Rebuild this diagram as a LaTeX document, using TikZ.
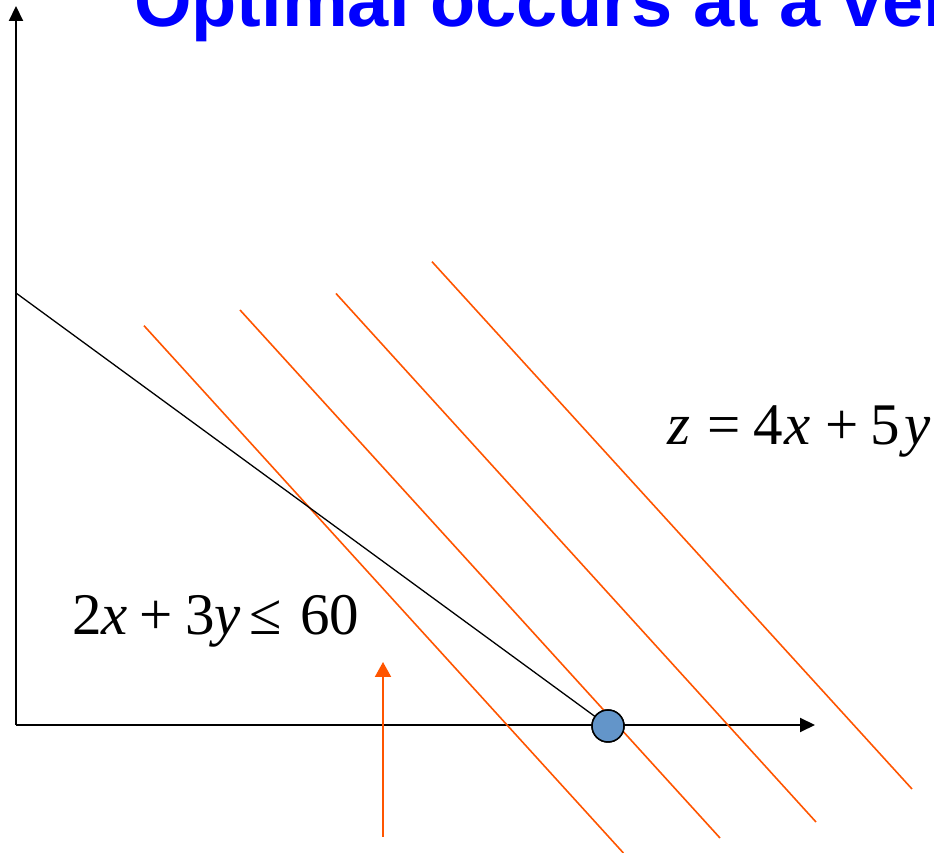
\documentclass[tikz,border=0pt]{standalone}
\usepackage{fontspec}
\setmainfont{Liberation Serif}
\newfontfamily\titlefont{Liberation Sans}
\usetikzlibrary{arrows.meta,positioning}
\definecolor{titleblue}{RGB}{0,0,255}
\definecolor{levelorange}{RGB}{255,85,0}
\definecolor{dotblue}{RGB}{99,149,201}

\begin{document}
\begin{tikzpicture}[x=1pt, y=1pt,
    axis/.style={line width=2pt, -{Triangle[length=15pt, width=14pt]}},
    constraint/.style={line width=1.3pt, black},
    level/.style={line width=1.6pt, levelorange},
    push/.style={line width=2pt, levelorange, -{Triangle[length=15pt, width=16pt]}},
    eq/.style={inner sep=0pt, anchor=base west, font=\fontsize{59}{60}\selectfont},
    vertex/.style={circle, draw=black, line width=1.5pt, fill=dotblue, minimum size=32pt, inner sep=0pt}
]
    \useasboundingbox (0,0) rectangle (934,853);
    \clip (0,0) rectangle (934,853);

    % Title (cut off by the frame)
    \node[inner sep=0pt, anchor=base west, text=titleblue, font=\titlefont\bfseries\fontsize{74}{74}\selectfont] (title) at (134,826) {Optimal occurs at a vertex};

    % Axes
    \coordinate (O) at (16,128);
    \coordinate (ytop) at (16,847);
    \coordinate (xend) at (815,128);
    \draw[axis] (O) -- (ytop);
    \draw[axis] (O) -- (xend);

    % Objective lines
    \coordinate (a1) at (144,527.3);  \coordinate (b1) at (623.4,0);
    \coordinate (a2) at (240,543);    \coordinate (b2) at (720,15);
    \coordinate (a3) at (336,559.5);  \coordinate (b3) at (816,31);
    \coordinate (a4) at (432,591.3);  \coordinate (b4) at (912,64);
    \foreach \i in {1,...,4}
        \draw[level] (a\i) -- (b\i);

    % Constraint and optimal vertex
    \coordinate (ycut) at (16,560);
    \node[vertex] (opt) at (608,127) {};
    \draw[constraint] (ycut) -- (opt);
    \node[vertex] at (opt) {};

    % Direction of increase
    \coordinate (arrbot) at (383,16);
    \coordinate (arrtop) at (383,191);
    \draw[push] (arrbot) -- (arrtop);

    % Labels
    \node[eq] (ineq) at (72,218) {2\textit{x}\hspace{12pt}+\hspace{12pt}3\textit{y}\hspace{9pt}≤\hspace{18pt}60};
    \node[eq] (obj) at (667,408) {\textit{z}\hspace{17pt}=\hspace{13pt}4\hspace{2pt}\textit{x}\hspace{14pt}+\hspace{12pt}5\hspace{5pt}\textit{y}};
\end{tikzpicture}
\end{document}
